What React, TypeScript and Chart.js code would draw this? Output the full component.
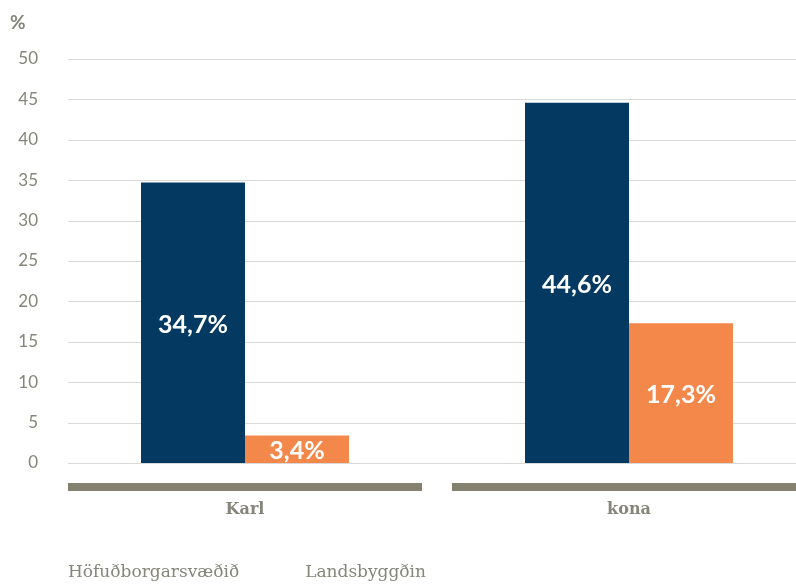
import React, { useEffect, useRef } from "react";
import { Chart, registerables } from "chart.js";

Chart.register(...registerables);

const categories = ["Karl", "kona"];
const seriesNames = ["Höfuðborgarsvæðið", "Landsbyggðin"];
const capitalValues = [34.7, 44.6];
const ruralValues = [3.4, 17.3];
const yMin = 0;
const yMax = 50;
const yStep = 5;
const unitLabel = "%";

const NAVY = "#043961";
const ORANGE = "#F4874A";
const GRAY_TEXT = "#85857a";
const GRAY_BAR = "#848171";
const GRID = "#d9d9d9";

const fmt = (v: number) => v.toFixed(1).replace(".", ",") + "%";

const decorPlugin = {
  id: "decor",
  beforeDatasetsDraw(chart: any) {
    const { ctx, chartArea, scales } = chart;
    const y = scales.y;
    const x = scales.x;
    ctx.save();
    ctx.strokeStyle = GRID;
    ctx.lineWidth = 1;
    y.ticks.forEach((t: any) => {
      const py = Math.round(y.getPixelForValue(t.value)) + 0.5;
      ctx.beginPath();
      ctx.moveTo(chartArea.left + 15, py);
      ctx.lineTo(chart.width, py);
      ctx.stroke();
    });
    const n = chart.data.labels.length;
    const catW = x.width / n;
    ctx.fillStyle = GRAY_BAR;
    for (let i = 0; i < n; i++) {
      const cx = x.getPixelForValue(i);
      ctx.fillRect(cx - catW / 2 + 15, chartArea.bottom + 20, catW - 30, 8);
    }
    ctx.restore();
  },
  afterDatasetsDraw(chart: any) {
    const { ctx } = chart;
    ctx.save();
    ctx.fillStyle = "#ffffff";
    ctx.font = "bold 25px Lato, 'Open Sans', sans-serif";
    ctx.textAlign = "center";
    ctx.textBaseline = "middle";
    chart.data.datasets.forEach((ds: any, di: number) => {
      const meta = chart.getDatasetMeta(di);
      meta.data.forEach((el: any, i: number) => {
        const cy = (el.y + el.base) / 2 + 2;
        ctx.fillText(fmt(ds.data[i]), el.x, cy);
      });
    });
    ctx.restore();
  },
  afterDraw(chart: any) {
    const { ctx, chartArea } = chart;
    ctx.save();
    ctx.fillStyle = GRAY_TEXT;
    ctx.font = "bold 19px Lato, sans-serif";
    ctx.textAlign = "left";
    ctx.textBaseline = "middle";
    ctx.fillText(unitLabel, 10, 23);
    ctx.font = "17px 'DejaVu Serif', serif";
    let lx = chartArea.left + 15;
    const ly = chart.height - 12;
    chart.data.datasets.forEach((ds: any) => {
      ctx.fillText(ds.label, lx, ly);
      lx += ctx.measureText(ds.label).width + 66;
    });
    ctx.restore();
  },
};

export default function App() {
  const ref = useRef<HTMLCanvasElement>(null);
  useEffect(() => {
    if (!ref.current) return;
    const chart = new Chart(ref.current, {
      type: "bar",
      data: {
        labels: categories,
        datasets: [
          {
            label: seriesNames[0],
            data: capitalValues,
            backgroundColor: NAVY,
            categoryPercentage: 0.5417,
            barPercentage: 1,
          },
          {
            label: seriesNames[1],
            data: ruralValues,
            backgroundColor: ORANGE,
            categoryPercentage: 0.5417,
            barPercentage: 1,
          },
        ],
      },
      options: {
        responsive: false,
        animation: false,
        layout: { padding: { top: 59, right: 9, bottom: 52, left: 0 } },
        plugins: {
          legend: { display: false },
          tooltip: { enabled: false },
          title: { display: false },
        },
        scales: {
          y: {
            min: yMin,
            max: yMax,
            ticks: {
              stepSize: yStep,
              padding: 15,
              color: GRAY_TEXT,
              font: { family: "Lato, sans-serif", size: 17 },
            },
            grid: { display: false, drawTicks: false },
            border: { display: false },
            afterFit: (s: any) => {
              s.width = 53;
            },
          },
          x: {
            ticks: {
              padding: 37,
              color: GRAY_TEXT,
              font: { family: "'DejaVu Serif', serif", size: 16, weight: "bold" },
            },
            grid: { display: false, drawTicks: false },
            border: { display: false },
            afterFit: (s: any) => {
              s.height = 70;
            },
          },
        },
      },
      plugins: [decorPlugin],
    });
    return () => chart.destroy();
  }, []);
  return (
    <div
      style={{
        position: "fixed",
        left: 0,
        top: 0,
        width: 796,
        height: 585,
        overflow: "hidden",
        background: "#fff",
      }}
    >
      <canvas ref={ref} width={830} height={585} style={{ display: "block" }} />
    </div>
  );
}
